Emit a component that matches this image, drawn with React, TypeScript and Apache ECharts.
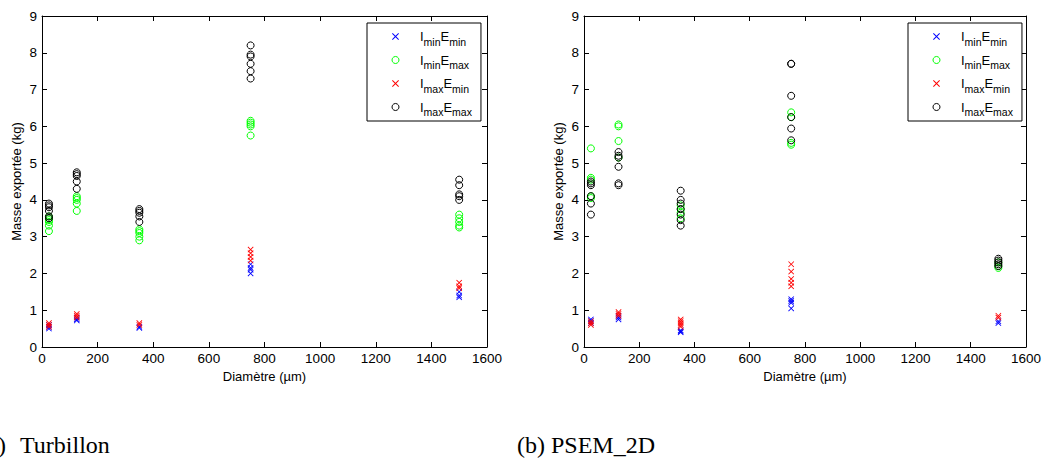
import React, { useEffect, useRef } from "react";
import * as echarts from "echarts";

// Diameters (µm) at which each case was computed
const diameters = [25, 125, 350, 750, 1500];

// (a) Turbillon — exported mass (kg), one sub-array per diameter
const turbIminEmin = [[0.5, 0.55, 0.6], [0.72, 0.75, 0.8], [0.52, 0.55], [2.0, 2.1, 2.15, 2.25], [1.35, 1.4, 1.5]];
const turbIminEmax = [[3.15, 3.3, 3.4, 3.45, 3.5, 3.55], [3.7, 3.9, 4.0, 4.05, 4.1], [2.9, 3.0, 3.1, 3.15, 3.2], [5.75, 6.0, 6.05, 6.1, 6.15], [3.25, 3.3, 3.4, 3.5, 3.6]];
const turbImaxEmin = [[0.55, 0.6, 0.65], [0.8, 0.85, 0.9], [0.6, 0.65], [2.35, 2.45, 2.55, 2.65], [1.6, 1.65, 1.75]];
const turbImaxEmax = [[3.5, 3.55, 3.7, 3.8, 3.85, 3.9], [4.3, 4.5, 4.65, 4.7, 4.75], [3.4, 3.55, 3.65, 3.7, 3.75], [7.3, 7.5, 7.7, 7.9, 7.95, 8.2], [4.0, 4.1, 4.15, 4.4, 4.55]];

// (b) PSEM_2D
const psemIminEmin = [[0.65, 0.7, 0.75], [0.75, 0.8, 0.85], [0.4, 0.42, 0.45], [1.05, 1.2, 1.25, 1.3], [0.65, 0.7]];
const psemIminEmax = [[4.05, 4.1, 4.55, 4.6, 5.4], [5.15, 5.6, 6.0, 6.05], [3.5, 3.65, 3.75, 3.85], [5.5, 5.55, 6.25, 6.38], [2.15, 2.2, 2.3]];
const psemImaxEmin = [[0.6, 0.65, 0.7], [0.85, 0.9, 0.95], [0.55, 0.6, 0.65, 0.7, 0.75], [1.65, 1.75, 1.85, 2.05, 2.25], [0.8, 0.85]];
const psemImaxEmax = [[3.6, 3.9, 4.1, 4.4, 4.45, 4.5], [4.4, 4.45, 4.9, 5.15, 5.2, 5.3], [3.3, 3.45, 3.6, 3.75, 3.9, 4.0, 4.25], [5.62, 5.94, 6.25, 6.83, 7.7, 7.7], [2.2, 2.25, 2.3, 2.35, 2.4]];

const seriesNames = ["IminEmin", "IminEmax", "ImaxEmin", "ImaxEmax"];
const legendParts: Record<string, [string, string]> = {
  IminEmin: ["min", "min"],
  IminEmax: ["min", "max"],
  ImaxEmin: ["max", "min"],
  ImaxEmax: ["max", "max"],
};
const panelKeys = ["a", "b"];
const captionA = ["(a)", "Turbillon"];
const captionB = "(b) PSEM_2D";
const xName = "Diamètre (µm)";
const yName = "Masse exportée (kg)";

// filled "x" marker outline (thin arms)
const CROSS = "path://M0,1L1,0L5,4L9,0L10,1L6,5L10,9L9,10L5,6L1,10L0,9L4,5Z";
const FONT = "Liberation Sans, Arial, Helvetica, sans-serif";
const SERIF = "Liberation Serif, Times New Roman, serif";

const styles = [
  { symbol: CROSS, size: 6, color: "#0000ff", cross: true },
  { symbol: "circle", size: 7, color: "#00ff00", cross: false },
  { symbol: CROSS, size: 6, color: "#ff0000", cross: true },
  { symbol: "circle", size: 7, color: "#000000", cross: false },
];

function markerStyle(st: { color: string; cross: boolean }) {
  return st.cross
    ? { color: st.color, borderWidth: 0, opacity: 1 }
    : { color: "rgba(0,0,0,0)", borderColor: st.color, borderWidth: 1, opacity: 1 };
}

function toPoints(groups: number[][]) {
  const pts: number[][] = [];
  groups.forEach((vals, i) => vals.forEach((v) => pts.push([diameters[i], v])));
  return pts;
}

const grids = [
  { left: 42, top: 16, width: 445, height: 331 },
  { left: 584, top: 16, width: 443, height: 331 },
];
const legendLefts = [367, 908];

export default function App() {
  const ref = useRef<HTMLDivElement>(null);
  useEffect(() => {
    if (!ref.current) return;
    const chart = echarts.init(ref.current, undefined, { renderer: "svg" });
    const axisLine = { show: true, onZero: false, lineStyle: { color: "#000", width: 1 } };
    const tick = { show: true, inside: true, length: 5, lineStyle: { color: "#000" } };
    const plain = (v: number) => String(v);
    const xAxes: any[] = [];
    const yAxes: any[] = [];
    grids.forEach((_, gi) => {
      xAxes.push({
        type: "value", gridIndex: gi, min: 0, max: 1600, interval: 200, position: "bottom",
        name: xName, nameLocation: "middle", nameGap: 21,
        nameTextStyle: { fontFamily: FONT, fontSize: 13, color: "#000" },
        axisLine, axisTick: tick, splitLine: { show: false },
        axisLabel: { fontFamily: FONT, fontSize: 13.5, color: "#000", margin: 4, formatter: plain },
      });
      yAxes.push({
        type: "value", gridIndex: gi, min: 0, max: 9, interval: 1, position: "left",
        name: yName, nameLocation: "middle", nameGap: 19,
        nameTextStyle: { fontFamily: FONT, fontSize: 13, color: "#000" },
        axisLine, axisTick: tick, splitLine: { show: false },
        axisLabel: { fontFamily: FONT, fontSize: 13.5, color: "#000", margin: 5, formatter: plain },
      });
    });
    grids.forEach((_, gi) => {
      xAxes.push({
        type: "value", gridIndex: gi, min: 0, max: 1600, interval: 200, position: "top",
        axisLine, axisTick: tick, splitLine: { show: false }, axisLabel: { show: false },
      });
      yAxes.push({
        type: "value", gridIndex: gi, min: 0, max: 9, interval: 1, position: "right",
        axisLine, axisTick: tick, splitLine: { show: false }, axisLabel: { show: false },
      });
    });

    const dataSets = [
      [turbIminEmin, turbIminEmax, turbImaxEmin, turbImaxEmax],
      [psemIminEmin, psemIminEmax, psemImaxEmin, psemImaxEmax],
    ];
    const series: any[] = [];
    dataSets.forEach((sets, gi) => {
      sets.forEach((groups, si) => {
        const st = styles[si];
        series.push({
          type: "scatter",
          name: seriesNames[si] + "_" + panelKeys[gi],
          xAxisIndex: gi,
          yAxisIndex: gi,
          symbol: st.symbol,
          symbolSize: st.size,
          itemStyle: markerStyle(st),
          emphasis: { disabled: true },
          data: toPoints(groups),
        });
      });
    });

    const legends = panelKeys.map((key, gi) => ({
      left: legendLefts[gi],
      top: 23,
      orient: "vertical",
      itemWidth: 7,
      itemHeight: 7,
      itemGap: 2.5,
      padding: [3, 9, 3.5, 24.5],
      borderColor: "#000",
      borderWidth: 1,
      backgroundColor: "#fff",
      selectedMode: false,
      data: seriesNames.map((n, si) => ({
        name: n + "_" + key,
        icon: styles[si].symbol,
        itemStyle: markerStyle(styles[si]),
      })),
      formatter: (name: string) => {
        const p = legendParts[name.split("_")[0]];
        return `{f|I}{s|${p[0]}}{n|E}{s|${p[1]}}`;
      },
      textStyle: {
        color: "#000",
        fontFamily: FONT,
        rich: {
          f: { fontFamily: FONT, fontSize: 13, color: "#000", lineHeight: 18, padding: [0, 0, 0, 16] },
          n: { fontFamily: FONT, fontSize: 13, color: "#000", lineHeight: 18 },
          s: { fontFamily: FONT, fontSize: 10.5, color: "#000", lineHeight: 12, padding: [10, 0, 0, 0] },
        },
      },
    }));

    chart.setOption({
      animation: false,
      backgroundColor: "#fff",
      grid: grids.map((g) => ({ ...g, containLabel: false })),
      xAxis: xAxes,
      yAxis: yAxes,
      legend: legends,
      series,
      graphic: [
        { type: "text", x: 6, y: 445, style: { text: captionA[0], fontFamily: SERIF, fontSize: 24, fill: "#000", align: "right", verticalAlign: "middle" } },
        { type: "text", x: 20, y: 445, style: { text: captionA[1], fontFamily: SERIF, fontSize: 24, fill: "#000", align: "left", verticalAlign: "middle" } },
        { type: "text", x: 517, y: 445, style: { text: captionB, fontFamily: SERIF, fontSize: 24, fill: "#000", align: "left", verticalAlign: "middle" } },
      ],
    });
    return () => chart.dispose();
  }, []);
  return (
    <div
      ref={ref}
      style={{ position: "absolute", left: 0, top: 0, width: 1044, height: 460, background: "#fff" }}
    />
  );
}
